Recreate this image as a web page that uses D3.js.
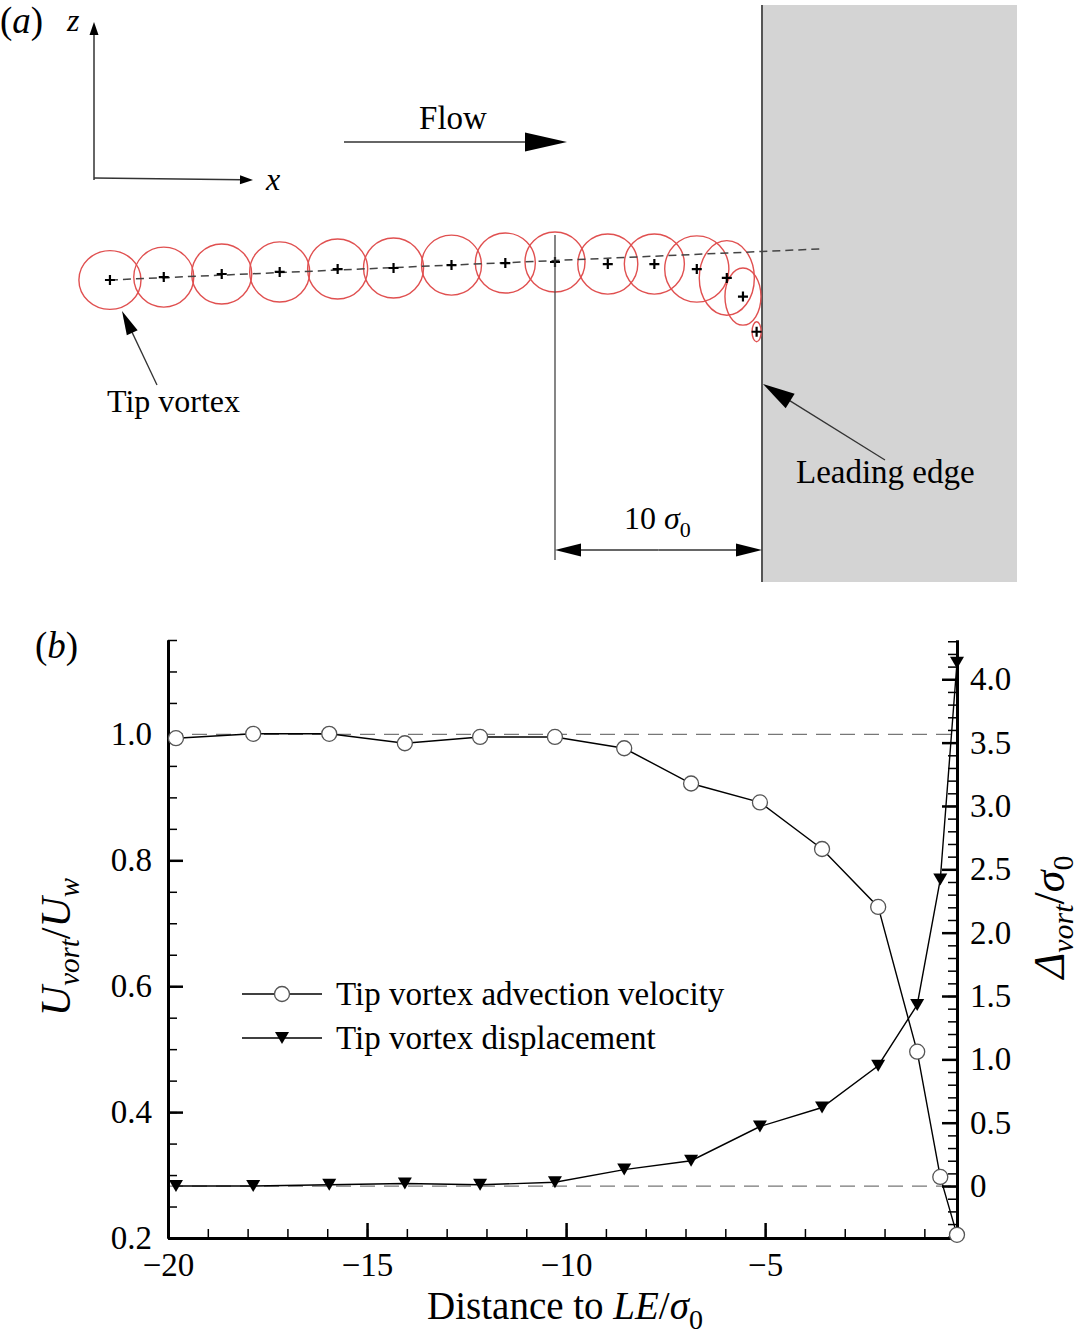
<!DOCTYPE html>
<html>
<head>
<meta charset="utf-8">
<script src="https://cdn.jsdelivr.net/npm/d3@7"></script>
<style>
  body { margin: 0; background: #fff; }
  text { font-family: "Liberation Serif", "Times New Roman", serif; fill: #000; }
</style>
</head>
<body>
<div id="chart"></div>
<script>
// ---- panel (a): vortex positions, in sigma_0 units from the leading edge ----
const vortexX  = [-31.5, -28.9, -26.1, -23.3, -20.5, -17.8, -15.0, -12.4, -10.0, -7.45, -5.2, -3.15, -1.7, -0.92, -0.26];
const vortexZ  = [0, 0.14, 0.29, 0.39, 0.53, 0.58, 0.72, 0.82, 0.87, 0.77, 0.77, 0.53, 0.1, -0.8, -2.5];
const vortexRx = [1.5, 1.45, 1.45, 1.45, 1.45, 1.45, 1.45, 1.45, 1.45, 1.45, 1.45, 1.55, 1.33, 0.87, 0.22];
const vortexRy = [1.42, 1.45, 1.45, 1.45, 1.45, 1.45, 1.45, 1.45, 1.45, 1.45, 1.45, 1.6, 1.8, 1.38, 0.48];
const trackX = [-31.5, 2.8];
const trackZ = [0, 1.5];

// ---- panel (b) ----
const distance = [-19.8, -17.86, -15.95, -14.05, -12.16, -10.28, -8.54, -6.86, -5.13, -3.57, -2.16, -1.18, -0.6, -0.18];
const advectionVelocity = [0.994, 1.001, 1.001, 0.986, 0.996, 0.996, 0.978, 0.922, 0.892, 0.818, 0.726, 0.496, 0.297, 0.205];
const displacement = [0.0, 0.0, 0.01, 0.02, 0.01, 0.03, 0.13, 0.2, 0.47, 0.62, 0.95, 1.43, 2.42, 4.13];
const xTicks = [-20, -15, -10, -5];
const leftTicks = [0.2, 0.4, 0.6, 0.8, 1.0];
const rightTicks = [0, 0.5, 1.0, 1.5, 2.0, 2.5, 3.0, 3.5, 4.0];
const seriesNames = ["Tip vortex advection velocity", "Tip vortex displacement"];

const W = 1080, H = 1341;
const svg = d3.select("#chart").append("svg")
    .attr("width", W)
    .attr("height", H);

// arrow helper: line with a filled head at (x2,y2)
function arrow(g, x1, y1, x2, y2, len, wid, sw) {
    const a = Math.atan2(y2 - y1, x2 - x1);
    const bx = x2 - Math.cos(a) * len, by = y2 - Math.sin(a) * len;
    g.append("line")
        .attr("x1", x1).attr("y1", y1).attr("x2", bx + Math.cos(a) * 2).attr("y2", by + Math.sin(a) * 2)
        .attr("stroke", "#333").attr("stroke-width", sw);
    const px = -Math.sin(a) * wid / 2, py = Math.cos(a) * wid / 2;
    g.append("path")
        .attr("d", `M${x2},${y2}L${bx + px},${by + py}L${bx - px},${by - py}Z`)
        .attr("fill", "#000");
}

// =========================== PANEL (a) ===========================
const ga = svg.append("g");
const xA = d3.scaleLinear().domain([-10, 0]).range([555, 762]);
const zA = d3.scaleLinear().domain([0, 1]).range([280, 259.3]);

// wing (grey block)
ga.append("rect")
    .attr("x", xA(0)).attr("y", 5)
    .attr("width", 1017 - xA(0)).attr("height", 577)
    .attr("fill", "#d4d4d4");
ga.append("line")
    .attr("x1", xA(0)).attr("x2", xA(0)).attr("y1", 5).attr("y2", 582)
    .attr("stroke", "#555").attr("stroke-width", 2);

// label and coordinate axes
ga.append("text").attr("x", 0).attr("y", 33).attr("font-size", 37)
    .html('(<tspan font-style="italic">a</tspan>)');
arrow(ga, 94, 180, 94, 22, 13, 9, 1.5);
arrow(ga, 94, 178, 253, 180, 13, 9, 1.5);
ga.append("text").attr("x", 67).attr("y", 31).attr("font-size", 32).attr("font-style", "italic").text("z");
ga.append("text").attr("x", 266).attr("y", 190).attr("font-size", 32).attr("font-style", "italic").text("x");

// flow arrow
ga.append("text").attr("x", 453).attr("y", 129).attr("font-size", 33).attr("text-anchor", "middle").text("Flow");
arrow(ga, 344, 142, 567, 142, 42, 19, 1.5);

// vortex ellipses
const vortices = vortexX.map((x, i) => ({ x, z: vortexZ[i], rx: vortexRx[i], ry: vortexRy[i] }));
ga.selectAll("ellipse.vortex")
    .data(vortices)
    .enter()
    .append("ellipse")
    .attr("class", "vortex")
    .attr("cx", d => xA(d.x))
    .attr("cy", d => zA(d.z))
    .attr("rx", d => xA(d.rx) - xA(0))
    .attr("ry", d => zA(0) - zA(d.ry))
    .attr("fill", "none")
    .attr("stroke", "#e05050")
    .attr("stroke-width", 1.4);

// fitted track (dashed)
ga.append("line")
    .attr("x1", xA(trackX[0])).attr("y1", zA(trackZ[0]))
    .attr("x2", xA(trackX[1])).attr("y2", zA(trackZ[1]))
    .attr("stroke", "#444").attr("stroke-width", 1.5)
    .attr("stroke-dasharray", "8,5");

// vortex centres
ga.selectAll("path.centre")
    .data(vortices)
    .enter()
    .append("path")
    .attr("class", "centre")
    .attr("transform", d => `translate(${xA(d.x)},${zA(d.z)})`)
    .attr("d", "M-5,0H5M0,-5V5")
    .attr("stroke", "#000")
    .attr("stroke-width", 2.2);

// 10 sigma_0 dimension
ga.append("line")
    .attr("x1", xA(-10)).attr("x2", xA(-10)).attr("y1", 235).attr("y2", 560)
    .attr("stroke", "#444").attr("stroke-width", 1.3);
arrow(ga, xA(-5), 550, xA(-10), 550, 26, 13, 1.3);
arrow(ga, xA(-5), 550, xA(0), 550, 26, 13, 1.3);
ga.append("text").attr("x", 624).attr("y", 529).attr("font-size", 32)
    .html('10 <tspan font-style="italic">σ</tspan><tspan font-size="22" dy="8">0</tspan>');

// annotations
ga.append("text").attr("x", 107).attr("y", 412).attr("font-size", 32).text("Tip vortex");
arrow(ga, 157, 385, 122, 311, 24, 12, 1.3);
ga.append("text").attr("x", 796).attr("y", 483).attr("font-size", 33).text("Leading edge");
arrow(ga, 885, 460, 763, 384, 32, 17, 1.3);

// =========================== PANEL (b) ===========================
const gb = svg.append("g");
const x = d3.scaleLinear().domain([-20, -0.18]).range([168, 957]);
const yL = d3.scaleLinear().domain([0.2, 1.15]).range([1238, 640]);
const yR = d3.scaleLinear().domain([-0.41, 4.31]).range([1238, 640]);

gb.append("text").attr("x", 35).attr("y", 658).attr("font-size", 37)
    .html('(<tspan font-style="italic">b</tspan>)');

// dashed reference lines
gb.append("line")
    .attr("x1", x.range()[0]).attr("x2", x.range()[1])
    .attr("y1", yL(1.0)).attr("y2", yL(1.0))
    .attr("stroke", "#777").attr("stroke-width", 1.3).attr("stroke-dasharray", "15,9");
gb.append("line")
    .attr("x1", x.range()[0]).attr("x2", x.range()[1])
    .attr("y1", yR(0)).attr("y2", yR(0))
    .attr("stroke", "#777").attr("stroke-width", 1.3).attr("stroke-dasharray", "15,9");

function styleAxis(g, minor) {
    g.select(".domain").attr("stroke", "#000").attr("stroke-width", 3);
    g.selectAll(".tick line").attr("stroke", "#000").attr("stroke-width", minor ? 1.5 : 2.5);
    g.attr("font-family", "'Liberation Serif', 'Times New Roman', serif").attr("font-size", 33);
}

// minor ticks first
const gxm = gb.append("g").attr("transform", `translate(0,${yL.range()[0]})`)
    .call(d3.axisBottom(x).tickValues(d3.range(-19, 0, 1)).tickSize(-9).tickSizeOuter(0).tickFormat(""));
styleAxis(gxm, true);
const gLm = gb.append("g").attr("transform", `translate(${x.range()[0]},0)`)
    .call(d3.axisLeft(yL).tickValues(d3.range(0.25, 1.151, 0.05)).tickSize(-9).tickSizeOuter(0).tickFormat(""));
styleAxis(gLm, true);
const gRm = gb.append("g").attr("transform", `translate(${x.range()[1]},0)`)
    .call(d3.axisRight(yR).tickValues(d3.range(-0.4, 4.31, 0.1)).tickSize(-9).tickSizeOuter(0).tickFormat(""));
styleAxis(gRm, true);

// major ticks + labels
const gx = gb.append("g").attr("transform", `translate(0,${yL.range()[0]})`)
    .call(d3.axisBottom(x).tickValues(xTicks).tickSize(-15).tickSizeOuter(0).tickPadding(15));
styleAxis(gx, false);
const gL = gb.append("g").attr("transform", `translate(${x.range()[0]},0)`)
    .call(d3.axisLeft(yL).tickValues(leftTicks).tickSize(-15).tickSizeOuter(0).tickPadding(16).tickFormat(d3.format(".1f")));
styleAxis(gL, false);
const gR = gb.append("g").attr("transform", `translate(${x.range()[1]},0)`)
    .call(d3.axisRight(yR).tickValues(rightTicks).tickSize(-15).tickSizeOuter(0).tickPadding(13)
        .tickFormat(d => d === 0 ? "0" : d3.format(".1f")(d)));
styleAxis(gR, false);

// axis titles
gb.append("text").attr("x", 565).attr("y", 1319).attr("font-size", 39).attr("text-anchor", "middle")
    .html('Distance to <tspan font-style="italic">LE</tspan>/<tspan font-style="italic">σ</tspan><tspan font-size="28" dy="10">0</tspan>');
gb.append("text").attr("transform", "translate(70,947) rotate(-90)").attr("font-size", 42).attr("text-anchor", "middle")
    .html('<tspan font-style="italic">U</tspan><tspan font-style="italic" font-size="29" dy="9">vort</tspan><tspan dy="-9">/</tspan><tspan font-style="italic">U</tspan><tspan font-style="italic" font-size="29" dy="9">w</tspan>');
gb.append("text").attr("transform", "translate(1064,917) rotate(-90)").attr("font-size", 44).attr("text-anchor", "middle")
    .html('<tspan font-style="italic">Δ</tspan><tspan font-style="italic" font-size="30" dy="9">vort</tspan><tspan dy="-9">/</tspan><tspan font-style="italic">σ</tspan><tspan font-size="30" dy="9">0</tspan>');

// series
const velData = distance.map((d, i) => ({ x: d, y: advectionVelocity[i] }));
const dispData = distance.map((d, i) => ({ x: d, y: displacement[i] }));
const triPath = "M-7,-6L7,-6L0,6Z";

gb.append("path")
    .datum(velData)
    .attr("d", d3.line().x(d => x(d.x)).y(d => yL(d.y)))
    .attr("fill", "none").attr("stroke", "#000").attr("stroke-width", 1.4);
gb.append("path")
    .datum(dispData)
    .attr("d", d3.line().x(d => x(d.x)).y(d => yR(d.y)))
    .attr("fill", "none").attr("stroke", "#000").attr("stroke-width", 1.4);

gb.selectAll("circle.vel")
    .data(velData)
    .enter()
    .append("circle")
    .attr("class", "vel")
    .attr("cx", d => x(d.x)).attr("cy", d => yL(d.y))
    .attr("r", 7.5)
    .attr("fill", "#fff").attr("stroke", "#555").attr("stroke-width", 1.3);
gb.selectAll("path.disp")
    .data(dispData)
    .enter()
    .append("path")
    .attr("class", "disp")
    .attr("transform", d => `translate(${x(d.x)},${yR(d.y)})`)
    .attr("d", triPath)
    .attr("fill", "#000");

// legend
const legend = gb.selectAll(".legend")
    .data(seriesNames)
    .enter()
    .append("g")
    .attr("class", "legend")
    .attr("transform", (d, i) => `translate(242,${994 + i * 44})`);
legend.append("line")
    .attr("x1", 0).attr("x2", 80)
    .attr("stroke", "#000").attr("stroke-width", 1.4);
legend.filter((d, i) => i === 0).append("circle")
    .attr("cx", 40).attr("r", 7.5)
    .attr("fill", "#fff").attr("stroke", "#555").attr("stroke-width", 1.3);
legend.filter((d, i) => i === 1).append("path")
    .attr("transform", "translate(40,0)")
    .attr("d", triPath).attr("fill", "#000");
legend.append("text")
    .attr("x", 94).attr("y", 11)
    .attr("font-size", 33)
    .text(d => d);
</script>
</body>
</html>
